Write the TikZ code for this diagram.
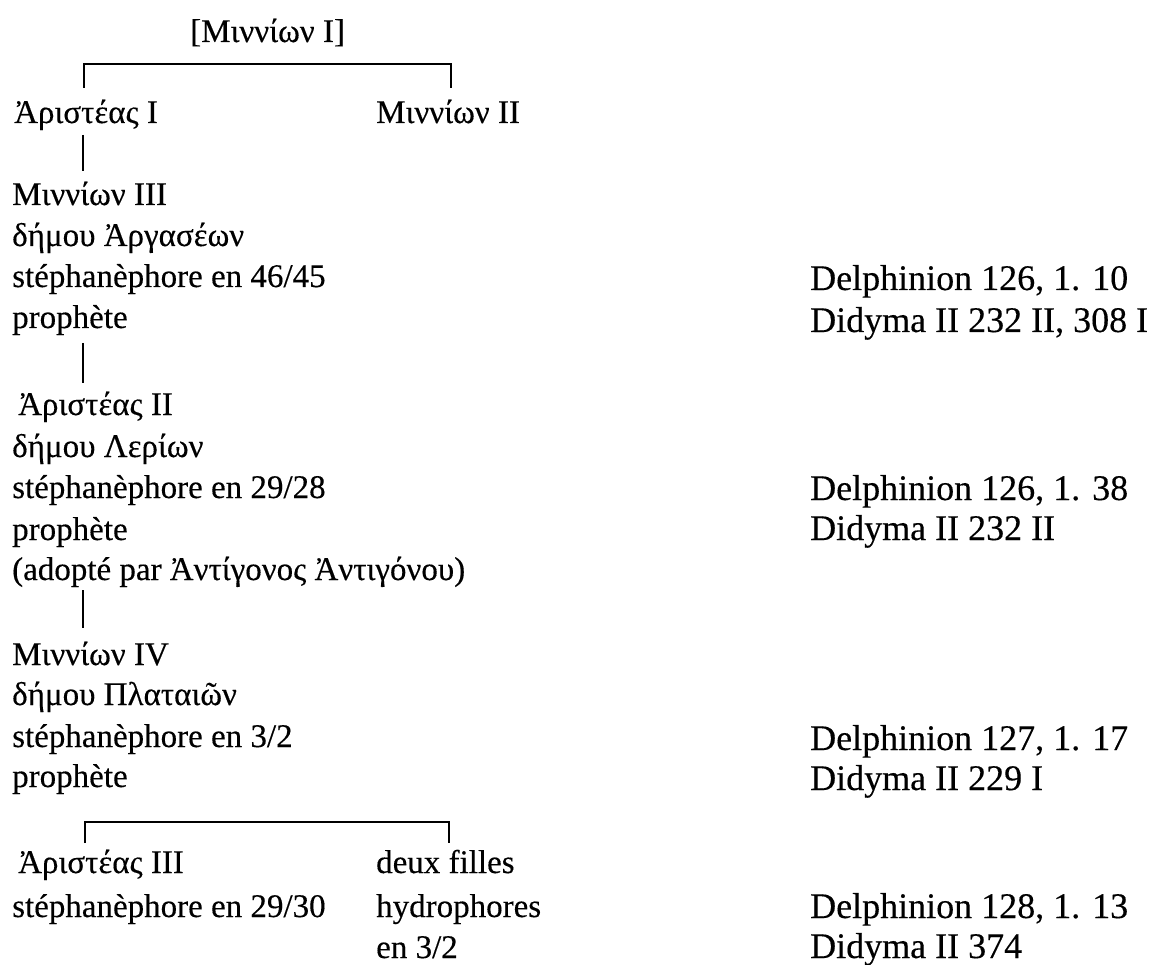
\documentclass[tikz,border=0pt]{standalone}
\usepackage{fontspec}
\setmainfont[FakeBold=0.3]{Liberation Serif}
\begin{document}
\begin{tikzpicture}[x=1pt,y=-1pt,
  txt/.style={anchor=base west, inner sep=0pt, font=\fontsize{33}{41}\selectfont},
  ref/.style={anchor=base west, inner sep=0pt, font=\fontsize{36}{41}\selectfont},
  rule/.style={line width=1.6pt}]
\useasboundingbox (0,0) rectangle (1159,965);
% top generation
\node[txt] (m1) at (190,42) {[Μιννίων I]};
\node[txt] (a1) at (14,123) {Ἀριστέας I};
\node[txt] (m2) at (376,123) {Μιννίων II};
% Minnion III
\node[txt] (m3) at (12,205) {Μιννίων III};
\node[txt] (m3b) at (12,246) {δήμου Ἀργασέων};
\node[txt] (m3c) at (12,287) {stéphanèphore en 46/45};
\node[txt] (m3d) at (12,328) {prophète};
% Aristeas II
\node[txt] (a2) at (18,415) {Ἀριστέας II};
\node[txt] (a2b) at (12,457) {δήμου Λερίων};
\node[txt] (a2c) at (12,498) {stéphanèphore en 29/28};
\node[txt] (a2d) at (12,540) {prophète};
\node[txt] (a2e) at (12,580) {(adopté par Ἀντίγονος Ἀντιγόνου)};
% Minnion IV
\node[txt] (m4) at (12,665) {Μιννίων IV};
\node[txt] (m4b) at (12,705) {δήμου Πλαταιῶν};
\node[txt] (m4c) at (12,747) {stéphanèphore en 3/2};
\node[txt] (m4d) at (12,787) {prophète};
% children
\node[txt] (a3) at (18,873) {Ἀριστέας III};
\node[txt] (a3b) at (12,917) {stéphanèphore en 29/30};
\node[txt] (f1) at (376,873) {deux filles};
\node[txt] (f2) at (376,917) {hydrophores};
\node[txt] (f3) at (376,958) {en 3/2};
% references
\node[ref] (r1) at (810,290) {Delphinion 126, 1. 10};
\node[ref] (r2) at (810,332) {Didyma II 232 II, 308 I};
\node[ref] (r3) at (810,500) {Delphinion 126, 1. 38};
\node[ref] (r4) at (810,540) {Didyma II 232 II};
\node[ref] (r5) at (810,750) {Delphinion 127, 1. 17};
\node[ref] (r6) at (810,790) {Didyma II 229 I};
\node[ref] (r7) at (810,918) {Delphinion 128, 1. 13};
\node[ref] (r8) at (810,958) {Didyma II 374};
% connector points
\coordinate (t1L) at (84,88);  \coordinate (t1Lt) at (84,64);
\coordinate (t1R) at (451,88); \coordinate (t1Rt) at (451,64);
\coordinate (v1a) at (83,135); \coordinate (v1b) at (83,171);
\coordinate (v2a) at (83,343); \coordinate (v2b) at (83,383);
\coordinate (v3a) at (83,590); \coordinate (v3b) at (83,628);
\coordinate (t2L) at (85,843);  \coordinate (t2Lt) at (85,822);
\coordinate (t2R) at (449,843); \coordinate (t2Rt) at (449,822);
% connectors
\draw[rule] (t1L) -- (t1Lt) -- (t1Rt) -- (t1R);
\draw[rule] (v1a) -- (v1b);
\draw[rule] (v2a) -- (v2b);
\draw[rule] (v3a) -- (v3b);
\draw[rule] (t2L) -- (t2Lt) -- (t2Rt) -- (t2R);
\end{tikzpicture}
\end{document}
